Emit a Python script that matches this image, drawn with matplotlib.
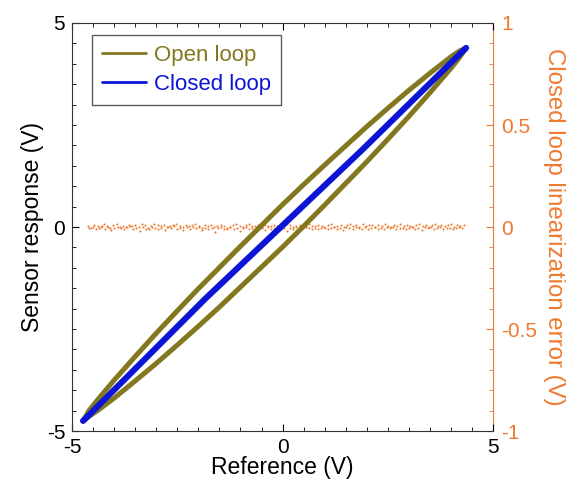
#!/usr/bin/env python3
"""
Open vs closed loop sensor response, with closed loop linearization error.
"""
import numpy as np
import matplotlib
matplotlib.use("Agg")
import matplotlib.pyplot as plt
from matplotlib.ticker import MultipleLocator

plt.rcParams["font.family"] = ["Liberation Sans", "DejaVu Sans"]

OLIVE = "#83781f"
BLUE = "#0c14d6"
ORANGE = "#ee7a30"

# Open loop hysteresis: rising branch (upper) then falling branch (lower)
open_up_x = [-4.74, -4.6, -4.4, -4.0, -3.5, -3.0, -2.5, -2.0, -1.5, -1.0, -0.5,
             0.0, 0.5, 1.0, 1.5, 2.0, 2.5, 3.0, 3.5, 4.0, 4.2, 4.36]
open_up_y = [-4.75, -4.50, -4.24, -3.75, -3.17, -2.60, -2.05, -1.51, -0.99, -0.47, 0.04,
             0.55, 1.04, 1.52, 1.99, 2.46, 2.91, 3.35, 3.77, 4.17, 4.31, 4.39]
open_dn_x = [4.36, 4.2, 4.0, 3.5, 3.0, 2.5, 2.0, 1.5, 1.0, 0.5, 0.0,
             -0.5, -1.0, -1.5, -2.0, -2.5, -3.0, -3.5, -4.0, -4.4, -4.6, -4.74]
open_dn_y = [4.39, 4.15, 3.89, 3.29, 2.71, 2.15, 1.60, 1.07, 0.54, 0.02, -0.49,
             -0.98, -1.47, -1.96, -2.43, -2.89, -3.34, -3.77, -4.19, -4.50, -4.64, -4.75]

# Closed loop response
closed_x = [-4.74, -1.84, 0.00, 1.91, 4.36]
closed_y = [-4.75, -1.76, 0.04, 1.91, 4.39]

# Linearization error (right axis), sampled over the reference sweep
err_x_start, err_x_stop = -4.62, 4.30
err_a = [0.004, -0.003, 0.011, 0.006, 0.001, 0.013, 0.004, -0.005, 0.009, 0.016,
         0.002, 0.007, -0.002, 0.012, 0.005, 0.009, 0.001, 0.014, 0.010, -0.004,
         0.006, 0.015, 0.008, 0.003, 0.011, -0.001, 0.007, 0.012, 0.013, 0.004,
         0.000, 0.010, 0.005, 0.008, 0.016, 0.003, -0.003, 0.009, 0.006, 0.012,
         -0.002, 0.007, 0.011, 0.004, -0.010, 0.002, 0.009, 0.014, 0.006, 0.001,
         0.010, 0.013, 0.003, 0.005, 0.012, -0.002, 0.008, 0.004, 0.007, 0.011,
         0.003, -0.004, 0.005, 0.013, 0.009, 0.001, 0.006, 0.010, 0.012, 0.002,
         0.015, 0.004, 0.007, 0.011, 0.005, -0.003, 0.009, 0.013, 0.001, 0.006,
         0.012, 0.000, 0.008, 0.015, 0.003, 0.010, 0.002, 0.013, 0.005, 0.011,
         0.008, -0.002, 0.009, 0.004, 0.014, 0.006, 0.001, 0.010, 0.007, 0.016,
         0.003, 0.009, 0.005, -0.001, 0.011, 0.013, 0.004, 0.008, 0.002, 0.010,
         0.014, 0.006, 0.012, 0.003, 0.008, 0.013, 0.000, 0.009, 0.005, 0.011]
err_b = [-0.005, 0.002, -0.011, -0.003, 0.004, -0.009, -0.001, -0.015, -0.006, 0.001,
         -0.007, -0.012, -0.002, 0.003, -0.010, -0.004, -0.019, -0.001, -0.008, -0.011,
         0.001, -0.005, -0.009, -0.003, -0.013, 0.000, -0.007, 0.003, -0.011, -0.005,
         -0.016, -0.002, -0.009, 0.002, -0.006, -0.001, -0.014, -0.004, -0.008, -0.003,
         -0.022, -0.007, -0.001, -0.010, -0.005, 0.002, -0.009, -0.003, -0.017, -0.006,
         -0.001, -0.011, -0.004, -0.008, 0.001, -0.006, -0.013, -0.002, -0.009, -0.004,
         0.000, -0.011, -0.006, -0.018, -0.003, -0.008, 0.002, -0.005, -0.010, -0.001,
         -0.007, -0.012, -0.003, -0.009, -0.004, 0.001, -0.011, -0.006, -0.001, -0.009,
         -0.005, -0.015, -0.002, -0.007, -0.010, 0.001, -0.004, -0.009, -0.001, -0.012,
         -0.006, -0.002, -0.008, -0.004, -0.011, 0.000, -0.007, 0.002, -0.009, -0.005,
         -0.003, -0.010, -0.006, -0.001, -0.008, -0.004, -0.013, -0.002, -0.006, 0.001,
         -0.009, -0.005, -0.001, -0.010, -0.007, -0.003, -0.008, -0.004, 0.000, -0.006]

fig = plt.figure(figsize=(5.68, 4.79), dpi=100)
ax = fig.add_axes([0.127, 0.100, 0.741, 0.852])
ax2 = ax.twinx()

xa = np.linspace(err_x_start, err_x_stop, len(err_a))
xb = np.linspace(err_x_start + 0.03, err_x_stop - 0.03, len(err_b))
ax2.scatter(xa, err_a, s=2.2, color=ORANGE, lw=0)
ax2.scatter(xb, err_b, s=2.2, color=ORANGE, lw=0)

ax.plot(open_up_x + open_dn_x[1:], open_up_y + open_dn_y[1:], color=OLIVE, lw=3.6,
        solid_joinstyle="round", solid_capstyle="round", label="Open loop")
ax.plot(closed_x, closed_y, color=BLUE, lw=4.4, solid_capstyle="round",
        solid_joinstyle="round", label="Closed loop")

ax.set_zorder(ax2.get_zorder() + 1)
ax.patch.set_visible(False)

ax.set_xlim(-5, 5)
ax.set_ylim(-5, 5)
ax2.set_ylim(-1, 1)

ax.set_xticks([-5, 0, 5])
ax.set_yticks([-5, 0, 5])
ax.xaxis.set_minor_locator(MultipleLocator(0.5))
ax.yaxis.set_minor_locator(MultipleLocator(0.5))
ax2.set_yticks([-1, -0.5, 0, 0.5, 1])
ax2.set_yticklabels(["-1", "-0.5", "0", "0.5", "1"])
ax2.yaxis.set_minor_locator(MultipleLocator(0.1))

ax.tick_params(which="both", direction="in", top=True, right=False, labelsize=15, pad=5)
ax.tick_params(which="major", length=5)
ax.tick_params(which="minor", length=3)
ax.set_xticklabels(["-5", "0", "5"])
ax.set_yticklabels(["-5", "0", "5"])
ax2.tick_params(which="both", direction="in", colors=ORANGE, labelsize=15, pad=6)
ax2.tick_params(which="major", length=5)
ax2.tick_params(which="minor", length=3)

for s in ["left", "top", "bottom"]:
    ax.spines[s].set_color("#333333")
ax.spines["right"].set_visible(False)
ax2.spines["right"].set_color(ORANGE)
ax2.spines["left"].set_visible(False)
ax2.spines["top"].set_visible(False)
ax2.spines["bottom"].set_visible(False)

ax.set_xlabel("Reference (V)", fontsize=16.5, labelpad=-1)
ax.set_ylabel("Sensor response (V)", fontsize=16.5, labelpad=2)
ax2.set_ylabel("Closed loop linearization error (V)", fontsize=17.3, color=ORANGE,
               rotation=270, labelpad=20)

leg = ax.legend(loc="upper left", fontsize=16, frameon=True, fancybox=False,
                handlelength=2.0, handletextpad=0.35, borderpad=0.45, labelspacing=0.35,
                borderaxespad=0, bbox_to_anchor=(0.047, 0.971))
leg.get_frame().set_edgecolor("#333333")
leg.get_frame().set_linewidth(1.0)
for line in leg.get_lines():
    line.set_linewidth(2)
for text, c in zip(leg.get_texts(), [OLIVE, BLUE]):
    text.set_color(c)

plt.savefig("out.png", dpi=100)
plt.close()
